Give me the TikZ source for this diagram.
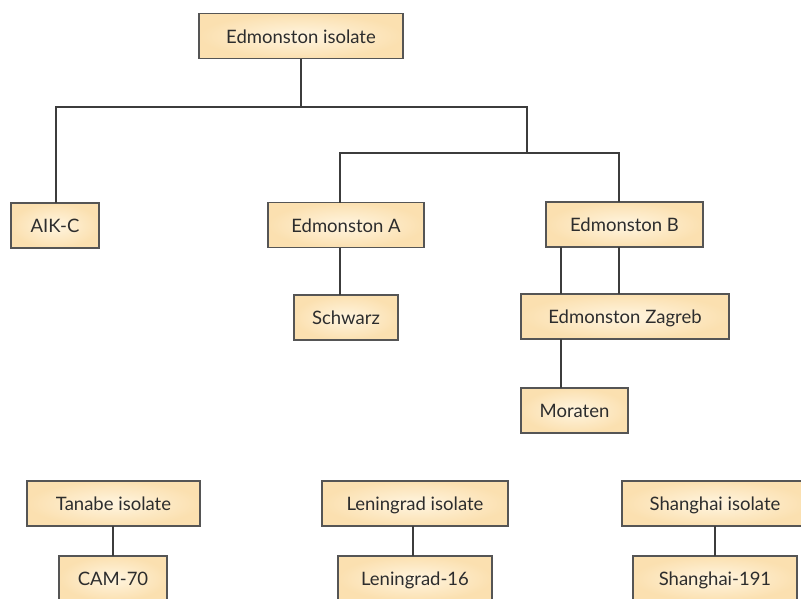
\documentclass[tikz,border=0pt]{standalone}
\usepackage{fontspec}
\setmainfont{Lato}
\definecolor{boxin}{RGB}{255,245,224}
\definecolor{boxout}{RGB}{251,224,176}
\definecolor{boxline}{RGB}{85,85,85}
\definecolor{conline}{RGB}{60,60,60}
\definecolor{txt}{RGB}{45,45,45}
\tikzset{
  strain/.style={rectangle, draw=boxline, line width=1.1pt, inner color=boxin, outer color=boxout,
    inner sep=0pt, outer sep=0pt, minimum height=45pt, text=txt,
    text height=18pt, text depth=3.4pt,
    font=\fontsize{18.5}{22}\selectfont},
  link/.style={draw=conline, line width=1.3pt}
}
\begin{document}
\begin{tikzpicture}[x=1pt,y=1pt]
\useasboundingbox (0,0) rectangle (801,-598);
\clip (0,0) rectangle (801,-598);
% nodes
\node[strain, minimum width=204pt] (ei) at (301,-36) {Edmonston isolate};
\node[strain, minimum width=88pt]  (aik) at (55,-225.5) {AIK-C};
\node[strain, minimum width=156pt] (ea) at (346,-225) {Edmonston A};
\node[strain, minimum width=104pt] (sch) at (346,-317.5) {Schwarz};
\node[strain, minimum width=157pt] (eb) at (624.5,-224.5) {Edmonston B};
\node[strain, minimum width=208pt] (ez) at (625,-316.5) {Edmonston Zagreb};
\node[strain, minimum width=107pt] (mor) at (574.5,-410.5) {Moraten};
\node[strain, minimum width=173pt] (tan) at (113.5,-503.5) {Tanabe isolate};
\node[strain, minimum width=108pt] (cam) at (113,-578.5) {CAM-70};
\node[strain, minimum width=186pt] (len) at (415,-503.5) {Leningrad isolate};
\node[strain, minimum width=154pt] (l16) at (415,-578.5) {Leningrad-16};
\node[strain, minimum width=186pt] (sha) at (715,-503.5) {Shanghai isolate};
\node[strain, minimum width=164pt] (s191) at (715,-578.5) {Shanghai-191};
% junctions
\coordinate (j1) at (301,-107);
\coordinate (j1l) at (56,-107);
\coordinate (j1r) at (527,-107);
\coordinate (j2) at (527,-153);
\coordinate (j2l) at (340,-153);
\coordinate (j2r) at (619,-153);
\coordinate (xa) at (340,0);
\coordinate (xb1) at (561,0);
\coordinate (xb2) at (619,0);
\coordinate (xt) at (113,0);
\coordinate (xl) at (413,0);
% connectors
\draw[link] (ei.south) -- (j1);
\draw[link] (j1l |- aik.north) -- (j1l) -- (j1r) -- (j2);
\draw[link] (xa |- ea.north) -- (j2l) -- (j2r) -- (xb2 |- eb.north);
\draw[link] (xa |- ea.south) -- (xa |- sch.north);
\draw[link] (xb1 |- eb.south) -- (xb1 |- ez.north);
\draw[link] (xb2 |- eb.south) -- (xb2 |- ez.north);
\draw[link] (xb1 |- ez.south) -- (xb1 |- mor.north);
\draw[link] (xt |- tan.south) -- (xt |- cam.north);
\draw[link] (xl |- len.south) -- (xl |- l16.north);
\draw[link] (sha.south) -- (s191.north);
\end{tikzpicture}
\end{document}
